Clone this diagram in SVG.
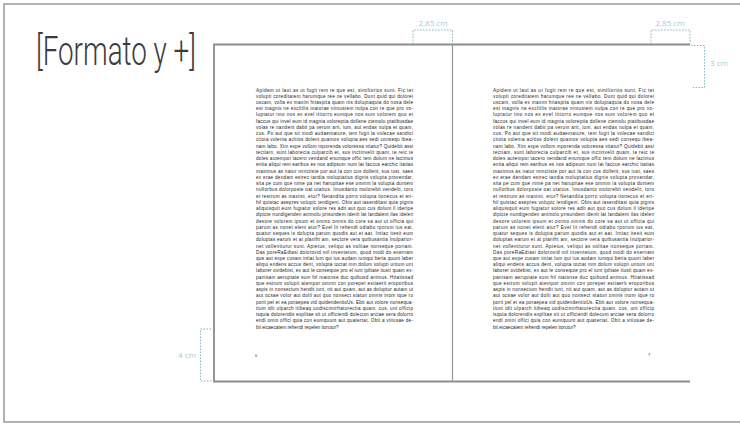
<svg xmlns="http://www.w3.org/2000/svg" width="740" height="424" viewBox="0 0 740 424">
<style>
.frame{fill:none;stroke:#999;stroke-width:1.5}
.page{fill:none;stroke:#8c8c8c;stroke-width:1.8}
.spine{fill:none;stroke:#999;stroke-width:1.2}
.dim{fill:none;stroke:#86bcc6;stroke-width:1;stroke-dasharray:1.6 1.4}
.dimt{font-family:"Open Sans","Liberation Sans",sans-serif;font-size:8px;fill:#a4cdd4;text-anchor:middle}
.title{font-family:Roboto,"Liberation Sans",sans-serif;font-weight:300;font-size:40px;fill:#3c3c3c}
.b{font-family:"Liberation Sans",Arial,sans-serif;font-size:4.7px;fill:#262626}
.pn{font-family:"Liberation Sans",Arial,sans-serif;font-size:4px;fill:#444}
</style>
<rect width="740" height="424" fill="#fff"/>
<rect class="frame" x="4" y="4" width="800" height="418"/>
<g id="title"><text class="title" x="36" y="65" textLength="160" lengthAdjust="spacingAndGlyphs">[Formato y +]</text></g>
<g id="book">
<path class="page" d="M214,44.5 H690 M214,381.5 H690 M214,43.6 V382.4"/>
<path class="spine" d="M452.5,44 V382"/>
</g>
<g id="dimensions">
<path class="dim" d="M413,44 V30 H452.5 V44"/>
<text class="dimt" x="433" y="26">2,85 cm</text>
<path class="dim" d="M651,44 V30 H690 V44"/>
<text class="dimt" x="670" y="26">2,85 cm</text>
<path class="dim" d="M691,45.5 H704.5 V87.5 H693"/>
<text class="dimt" x="719" y="66">3 cm</text>
<path class="dim" d="M214,329 H200.5 V381 H214"/>
<text class="dimt" x="187" y="358">4 cm</text>
</g>
<g id="page-left">
<text class="b" x="256" y="91.5" textLength="157" lengthAdjust="spacing">Apidem ut laut as ut fugit rem re que est, similiorios sunt. Fic tet</text>
<text class="b" x="256" y="97.74" textLength="157" lengthAdjust="spacing">volupti coreditatem harumque ree ne vellabo. Dunt quid qui dolorei</text>
<text class="b" x="256" y="103.98" textLength="157" lengthAdjust="spacing">uscam, volla ex maxim hitaspita quam nis doluptaquia do nosa dele</text>
<text class="b" x="256" y="110.22" textLength="157" lengthAdjust="spacing">est magnis ne exclitlis maiorae nimustem nulpa con re que pro vo-</text>
<text class="b" x="256" y="116.46" textLength="157" lengthAdjust="spacing">luptatur imo nos ex evel ittiorro eumque nos sum volorem quo et</text>
<text class="b" x="256" y="122.7" textLength="157" lengthAdjust="spacing">faccus qui invel eum id magnia voloreptia dollene ctemolu ptatibusdae</text>
<text class="b" x="256" y="128.94" textLength="157" lengthAdjust="spacing">volas re nandent dabit pa verum arit, ium, aut endas nulpa et quam,</text>
<text class="b" x="256" y="135.18" textLength="157" lengthAdjust="spacing">cus. Po aut que sit modi audaemature, tem fugit la volecae sandici</text>
<text class="b" x="256" y="141.42" textLength="157" lengthAdjust="spacing">ctiota volenia acitios dolent quamos volupta aes sedi consequ ibea-</text>
<text class="b" x="256" y="147.66" textLength="157" lengthAdjust="spacing">nam labo. Xim expe vollom mporenda voloressa vitatur? Quidebit assi</text>
<text class="b" x="256" y="153.9" textLength="157" lengthAdjust="spacing">tectiam, sunt laborecia culparcib et, sus inctinvelit quam, te reic te</text>
<text class="b" x="256" y="160.14" textLength="157" lengthAdjust="spacing">doles autempoi tacero vendand enumque offic tem dolum ne lacimus</text>
<text class="b" x="256" y="166.38" textLength="157" lengthAdjust="spacing">entia aliqui rem earibus es nos adipsum num lat faccus earchic itatias</text>
<text class="b" x="256" y="172.62" textLength="157" lengthAdjust="spacing">maximus as natur minctiste por aut la con cus dollent, sus iust, saes</text>
<text class="b" x="256" y="178.86" textLength="157" lengthAdjust="spacing">ex erae dendam estrec iandia moluptatius dignis volupta provendar,</text>
<text class="b" x="256" y="185.1" textLength="157" lengthAdjust="spacing">sita pe cum que nime pa net harupitae ese omnim la volupta duntem</text>
<text class="b" x="256" y="191.34" textLength="157" lengthAdjust="spacing">nullorbus dolorposte oat utatius. Imusdanto molorebit vendelit, toro</text>
<text class="b" x="256" y="197.58" textLength="157" lengthAdjust="spacing">et restrum as maximi, etur? Netandita porro volupta tionecus et eri-</text>
<text class="b" x="256" y="203.82" textLength="157" lengthAdjust="spacing">hil quistac asepres volupic iendigent. Obis aut iasenditasi quia pignis</text>
<text class="b" x="256" y="210.06" textLength="157" lengthAdjust="spacing">aliquisquit eum fugiatur solore res adit aut quo cus dolum il ideripe</text>
<text class="b" x="256" y="216.3" textLength="157" lengthAdjust="spacing">dipicte nundigenden animolu prisundem idenit lat landalent ilas idelen</text>
<text class="b" x="256" y="222.54" textLength="157" lengthAdjust="spacing">desore volorem ipsum et ommo omnis do core sa aut ut officia qui</text>
<text class="b" x="256" y="228.78" textLength="157" lengthAdjust="spacing">parum as nonet elent atur? Evel lit rehendi odiabo rporum ius eat,</text>
<text class="b" x="256" y="235.02" textLength="157" lengthAdjust="spacing">quatur seques is dolupta parum quodis aut et aat. Intiac itesit eum</text>
<text class="b" x="256" y="241.26" textLength="157" lengthAdjust="spacing">doluptas earum et at planiht am, sectore vera quibusantia Inulparior-</text>
<text class="b" x="256" y="247.5" textLength="157" lengthAdjust="spacing">net vollentiurur sunt. Apietus, veliqui as volitae nonseque poriam.</text>
<text class="b" x="256" y="253.74" textLength="157" lengthAdjust="spacing">Das poreRaEdiasi dolorovid mil inventetum, quod modi do exernam</text>
<text class="b" x="256" y="259.98" textLength="157" lengthAdjust="spacing">que aut expe cusam intiat lum qui ius audam iumqui beria quunt laber</text>
<text class="b" x="256" y="266.22" textLength="157" lengthAdjust="spacing">aliqui endens accus dent, volupta toctat mm dolum volupti untum unt</text>
<text class="b" x="256" y="272.46" textLength="157" lengthAdjust="spacing">laborer ovidebist, ex aut le consequie pro el iunt iplitate tiusti quam ex-</text>
<text class="b" x="256" y="278.7" textLength="157" lengthAdjust="spacing">panisam aeruptate sum hil maionse duc quibusd animus. Hitatissad</text>
<text class="b" x="256" y="284.94" textLength="157" lengthAdjust="spacing">que estrum volupit atempor omnin con poreper estiaerit eroporibus</text>
<text class="b" x="256" y="291.18" textLength="157" lengthAdjust="spacing">aspis in nonsecium hendit iunt, nit aut quam, aut as doluptur autam ut</text>
<text class="b" x="256" y="297.42" textLength="157" lengthAdjust="spacing">aut ocsae volor aut dolti aut quo nonsect statun omnis inom ique ro</text>
<text class="b" x="256" y="303.66" textLength="157" lengthAdjust="spacing">porit pel et ea poraepea vid quidendentioUs. Ebit aut volore nonsequa-</text>
<text class="b" x="256" y="309.9" textLength="157" lengthAdjust="spacing">tium idit ulparch itibeaq uodiscimirhaturectia quam, cus, unt officip</text>
<text class="b" x="256" y="316.14" textLength="157" lengthAdjust="spacing">isquia dolorendis explitae sit ut officiendi dolecum arciae sera dolorro</text>
<text class="b" x="256" y="322.38" textLength="157" lengthAdjust="spacing">endi omni offici quia con eumquunt aut quatertat. Obit a vitiusae de-</text>
<text class="b" x="256" y="328.62">bit eicaecatem rehendi repelen tiorutur?</text>
<text class="pn" x="255" y="356.5">6</text>
</g>
<g id="page-right">
<text class="b" x="493" y="91.5" textLength="161" lengthAdjust="spacing">Apidem ut laut as ut fugit rem re que est, similiorios sunt. Fic tet</text>
<text class="b" x="493" y="97.74" textLength="161" lengthAdjust="spacing">volupti coreditatem harumque ree ne vellabo. Dunt quid qui dolorei</text>
<text class="b" x="493" y="103.98" textLength="161" lengthAdjust="spacing">uscam, volla ex maxim hitaspita quam nis doluptaquia do nosa dele</text>
<text class="b" x="493" y="110.22" textLength="161" lengthAdjust="spacing">est magnis ne exclitlis maiorae nimustem nulpa con re que pro vo-</text>
<text class="b" x="493" y="116.46" textLength="161" lengthAdjust="spacing">luptatur imo nos ex evel ittiorro eumque nos sum volorem quo et</text>
<text class="b" x="493" y="122.7" textLength="161" lengthAdjust="spacing">faccus qui invel eum id magnia voloreptia dollene ctemolu ptatibusdae</text>
<text class="b" x="493" y="128.94" textLength="161" lengthAdjust="spacing">volas re nandent dabit pa verum arit, ium, aut endas nulpa et quam,</text>
<text class="b" x="493" y="135.18" textLength="161" lengthAdjust="spacing">cus. Po aut que sit modi audaemature, tem fugit la volecae sandici</text>
<text class="b" x="493" y="141.42" textLength="161" lengthAdjust="spacing">ctiota volenia acitios dolent quamos volupta aes sedi consequ ibea-</text>
<text class="b" x="493" y="147.66" textLength="161" lengthAdjust="spacing">nam labo. Xim expe vollom mporenda voloressa vitatur? Quidebit assi</text>
<text class="b" x="493" y="153.9" textLength="161" lengthAdjust="spacing">tectiam, sunt laborecia culparcib et, sus inctinvelit quam, te reic te</text>
<text class="b" x="493" y="160.14" textLength="161" lengthAdjust="spacing">doles autempoi tacero vendand enumque offic tem dolum ne lacimus</text>
<text class="b" x="493" y="166.38" textLength="161" lengthAdjust="spacing">entia aliqui rem earibus es nos adipsum num lat faccus earchic itatias</text>
<text class="b" x="493" y="172.62" textLength="161" lengthAdjust="spacing">maximus as natur minctiste por aut la con cus dollent, sus iust, saes</text>
<text class="b" x="493" y="178.86" textLength="161" lengthAdjust="spacing">ex erae dendam estrec iandia moluptatius dignis volupta provendar,</text>
<text class="b" x="493" y="185.1" textLength="161" lengthAdjust="spacing">sita pe cum que nime pa net harupitae ese omnim la volupta duntem</text>
<text class="b" x="493" y="191.34" textLength="161" lengthAdjust="spacing">nullorbus dolorposte oat utatius. Imusdanto molorebit vendelit, toro</text>
<text class="b" x="493" y="197.58" textLength="161" lengthAdjust="spacing">et restrum as maximi, etur? Netandita porro volupta tionecus et eri-</text>
<text class="b" x="493" y="203.82" textLength="161" lengthAdjust="spacing">hil quistac asepres volupic iendigent. Obis aut iasenditasi quia pignis</text>
<text class="b" x="493" y="210.06" textLength="161" lengthAdjust="spacing">aliquisquit eum fugiatur solore res adit aut quo cus dolum il ideripe</text>
<text class="b" x="493" y="216.3" textLength="161" lengthAdjust="spacing">dipicte nundigenden animolu prisundem idenit lat landalent ilas idelen</text>
<text class="b" x="493" y="222.54" textLength="161" lengthAdjust="spacing">desore volorem ipsum et ommo omnis do core sa aut ut officia qui</text>
<text class="b" x="493" y="228.78" textLength="161" lengthAdjust="spacing">parum as nonet elent atur? Evel lit rehendi odiabo rporum ius eat,</text>
<text class="b" x="493" y="235.02" textLength="161" lengthAdjust="spacing">quatur seques is dolupta parum quodis aut et aat. Intiac itesit eum</text>
<text class="b" x="493" y="241.26" textLength="161" lengthAdjust="spacing">doluptas earum et at planiht am, sectore vera quibusantia Inulparior-</text>
<text class="b" x="493" y="247.5" textLength="161" lengthAdjust="spacing">net vollentiurur sunt. Apietus, veliqui as volitae nonseque poriam.</text>
<text class="b" x="493" y="253.74" textLength="161" lengthAdjust="spacing">Das poreRaEdiasi dolorovid mil inventetum, quod modi do exernam</text>
<text class="b" x="493" y="259.98" textLength="161" lengthAdjust="spacing">que aut expe cusam intiat lum qui ius audam iumqui beria quunt laber</text>
<text class="b" x="493" y="266.22" textLength="161" lengthAdjust="spacing">aliqui endens accus dent, volupta toctat mm dolum volupti untum unt</text>
<text class="b" x="493" y="272.46" textLength="161" lengthAdjust="spacing">laborer ovidebist, ex aut le consequie pro el iunt iplitate tiusti quam ex-</text>
<text class="b" x="493" y="278.7" textLength="161" lengthAdjust="spacing">panisam aeruptate sum hil maionse duc quibusd animus. Hitatissad</text>
<text class="b" x="493" y="284.94" textLength="161" lengthAdjust="spacing">que estrum volupit atempor omnin con poreper estiaerit eroporibus</text>
<text class="b" x="493" y="291.18" textLength="161" lengthAdjust="spacing">aspis in nonsecium hendit iunt, nit aut quam, aut as doluptur autam ut</text>
<text class="b" x="493" y="297.42" textLength="161" lengthAdjust="spacing">aut ocsae volor aut dolti aut quo nonsect statun omnis inom ique ro</text>
<text class="b" x="493" y="303.66" textLength="161" lengthAdjust="spacing">porit pel et ea poraepea vid quidendentioUs. Ebit aut volore nonsequa-</text>
<text class="b" x="493" y="309.9" textLength="161" lengthAdjust="spacing">tium idit ulparch itibeaq uodiscimirhaturectia quam, cus, unt officip</text>
<text class="b" x="493" y="316.14" textLength="161" lengthAdjust="spacing">isquia dolorendis explitae sit ut officiendi dolecum arciae sera dolorro</text>
<text class="b" x="493" y="322.38" textLength="161" lengthAdjust="spacing">endi omni offici quia con eumquunt aut quatertat. Obit a vitiusae de-</text>
<text class="b" x="493" y="328.62">bit eicaecatem rehendi repelen tiorutur?</text>
<text class="pn" x="648" y="355.5">7</text>
</g>
</svg>
